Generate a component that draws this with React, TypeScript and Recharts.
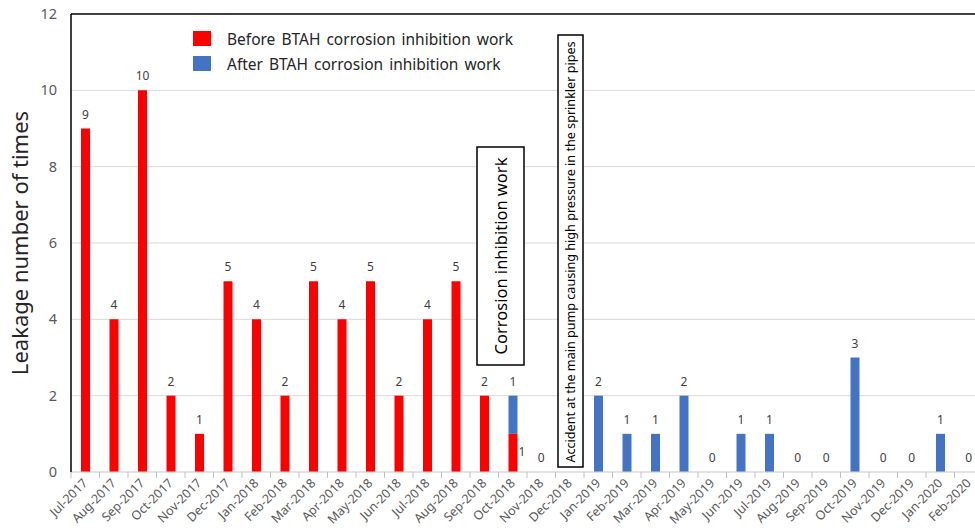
import React from 'react';
import {
  ComposedChart,
  Bar,
  Scatter,
  XAxis,
  YAxis,
  CartesianGrid,
  Legend,
  LabelList,
  ReferenceLine,
} from 'recharts';

const months = [
  'Jul-2017', 'Aug-2017', 'Sep-2017', 'Oct-2017', 'Nov-2017', 'Dec-2017',
  'Jan-2018', 'Feb-2018', 'Mar-2018', 'Apr-2018', 'May-2018', 'Jun-2018',
  'Jul-2018', 'Aug-2018', 'Sep-2018', 'Oct-2018', 'Nov-2018', 'Dec-2018',
  'Jan-2019', 'Feb-2019', 'Mar-2019', 'Apr-2019', 'May-2019', 'Jun-2019',
  'Jul-2019', 'Aug-2019', 'Sep-2019', 'Oct-2019', 'Nov-2019', 'Dec-2019',
  'Jan-2020', 'Feb-2020',
];

const beforeWork = [
  9, 4, 10, 2, 1, 5, 4, 2, 5, 4, 5, 2, 4, 5, 2, 1, 0, null,
  null, null, null, null, null, null, null, null, null, null, null, null, null, null,
];

const afterWork = [
  null, null, null, null, null, null, null, null, null, null, null, null,
  null, null, null, 1, null, null,
  2, 1, 1, 2, 0, 1, 1, 0, 0, 3, 0, 0, 1, 0,
];

const yTicks = [0, 2, 4, 6, 8, 10, 12];

const BEFORE_LABEL = 'Before BTAH corrosion inhibition work';
const AFTER_LABEL = 'After BTAH corrosion inhibition work';
const RED = '#ff0000';
const BLUE = '#4472c4';
const FONT = '"Noto Sans", "Open Sans", sans-serif';

const data = months.map((m, i) => ({
  month: m,
  before: beforeWork[i],
  after: afterWork[i],
  // months with a recorded zero still carry a "0" label
  zero: beforeWork[i] === 0 || afterWork[i] === 0 ? 0 : null,
}));

const BAND = 912 / months.length;

const XTick = (props: any) => {
  const { x, y, payload, index } = props;
  const left = x - BAND / 2;
  return (
    <g>
      <line x1={left} x2={left} y1={y} y2={y + 6} stroke="#bfbfbf" />
      {index === months.length - 1 && (
        <line x1={left + BAND} x2={left + BAND} y1={y} y2={y + 6} stroke="#bfbfbf" />
      )}
      <text
        x={x + 3}
        y={y + 12}
        transform={`rotate(-45, ${x + 3}, ${y + 12})`}
        textAnchor="end"
        fontSize={12.5}
        fill="#595959"
        fontFamily={FONT}
      >
        {payload.value}
      </text>
    </g>
  );
};

const YTick = (props: any) => {
  const { x, y, payload } = props;
  return (
    <text
      x={x - 14}
      y={y}
      dy="0.35em"
      textAnchor="end"
      fontSize={14.5}
      fill="#595959"
      fontFamily={FONT}
    >
      {payload.value}
    </text>
  );
};

const YTitle = (props: any) => {
  const { viewBox } = props;
  const cx = 28;
  const cy = viewBox.y + viewBox.height / 2;
  return (
    <text
      x={cx}
      y={cy}
      transform={`rotate(-90, ${cx}, ${cy})`}
      textAnchor="middle"
      fontSize={22}
      fill="#262626"
      fontFamily={FONT}
    >
      Leakage number of times
    </text>
  );
};

// value labels; the red part of a stacked month gets its label beside the bar
const barLabel = (series: 'before' | 'after') => (props: any) => {
  const { x, y, width, value, index } = props;
  if (value == null || value === 0) return null;
  const stacked = series === 'before' && data[index].after != null;
  return (
    <text
      x={stacked ? x + width + 1 : x + width / 2}
      y={stacked ? y + 22 : y - 10}
      textAnchor={stacked ? 'start' : 'middle'}
      fontSize={12}
      fill="#404040"
      fontFamily={FONT}
    >
      {value}
    </text>
  );
};

const zeroLabel = (props: any) => {
  const { x, y, width, height, value } = props;
  if (value == null || !isFinite(x) || !isFinite(y)) return null;
  return (
    <text
      x={x + width / 2}
      y={y + height / 2 - 10}
      textAnchor="middle"
      fontSize={12}
      fill="#404040"
      fontFamily={FONT}
    >
      {value}
    </text>
  );
};

const LegendBox = () => (
  <div style={{ fontFamily: FONT, fontSize: 15.5, color: '#262626' }}>
    {[
      { name: BEFORE_LABEL, color: RED },
      { name: AFTER_LABEL, color: BLUE },
    ].map((e) => (
      <div key={e.name} style={{ display: 'flex', alignItems: 'center', height: 25 }}>
        <span
          style={{
            display: 'inline-block',
            width: 18,
            height: 15,
            background: e.color,
            marginRight: 16,
          }}
        />
        <span style={{ wordSpacing: 2, whiteSpace: 'nowrap' }}>{e.name}</span>
      </div>
    ))}
  </div>
);

const App = () => {
  return (
    <div
      style={{
        position: 'absolute',
        left: 0,
        top: 0,
        width: 975,
        height: 532,
        overflow: 'hidden',
        background: '#fff',
      }}
    >
      <ComposedChart
        width={990}
        height={532}
        data={data}
        margin={{ top: 14, right: 7, left: 0, bottom: 0 }}
        barCategoryGap={0}
      >
        <CartesianGrid vertical={false} stroke="#d9d9d9" />
        <XAxis
          dataKey="month"
          interval={0}
          height={60}
          tickSize={0}
          tickMargin={0}
          tickLine={false}
          allowDuplicatedCategory={false}
          tick={<XTick />}
          axisLine={{ stroke: '#d9d9d9' }}
        />
        <YAxis
          width={71}
          domain={[0, 12]}
          ticks={yTicks}
          tickLine={false}
          tickSize={0}
          tickMargin={0}
          tick={<YTick />}
          axisLine={{ stroke: '#000', strokeWidth: 1.5 }}
          label={<YTitle />}
        />
        <ReferenceLine y={12} stroke="#404040" strokeWidth={2} />
        <Legend
          layout="horizontal"
          verticalAlign="middle"
          align="center"
          wrapperStyle={{ top: 26, left: 193, width: 400 }}
          content={<LegendBox />}
        />
        <Bar
          dataKey="before"
          name={BEFORE_LABEL}
          stackId="s"
          fill={RED}
          barSize={9}
          isAnimationActive={false}
        >
          <LabelList dataKey="before" content={barLabel('before')} />
        </Bar>
        <Bar
          dataKey="after"
          name={AFTER_LABEL}
          stackId="s"
          fill={BLUE}
          barSize={9}
          isAnimationActive={false}
        >
          <LabelList dataKey="after" content={barLabel('after')} />
        </Bar>
        <Scatter
          dataKey="zero"
          legendType="none"
          shape={() => <g />}
          isAnimationActive={false}
        >
          <LabelList dataKey="zero" content={zeroLabel} />
        </Scatter>
      </ComposedChart>
      <svg
        width={975}
        height={532}
        style={{ position: 'absolute', left: 0, top: 0, pointerEvents: 'none' }}
      >
        <g fontFamily={FONT} fill="#000">
          <rect x={477} y={147} width={47} height={218} fill="#fff" stroke="#000" strokeWidth={1.5} />
          <text
            x={507}
            y={256}
            transform="rotate(-90, 507, 256)"
            textAnchor="middle"
            fontSize={16.5}
          >
            Corrosion inhibition work
          </text>
          <rect x={558} y={35} width={25} height={432} fill="#fff" stroke="#000" strokeWidth={1.5} />
          <text
            x={575}
            y={252}
            transform="rotate(-90, 575, 252)"
            textAnchor="middle"
            fontSize={12.6}
          >
            Accident at the main pump causing high pressure in the sprinkler pipes
          </text>
        </g>
      </svg>
    </div>
  );
};

export default App;
